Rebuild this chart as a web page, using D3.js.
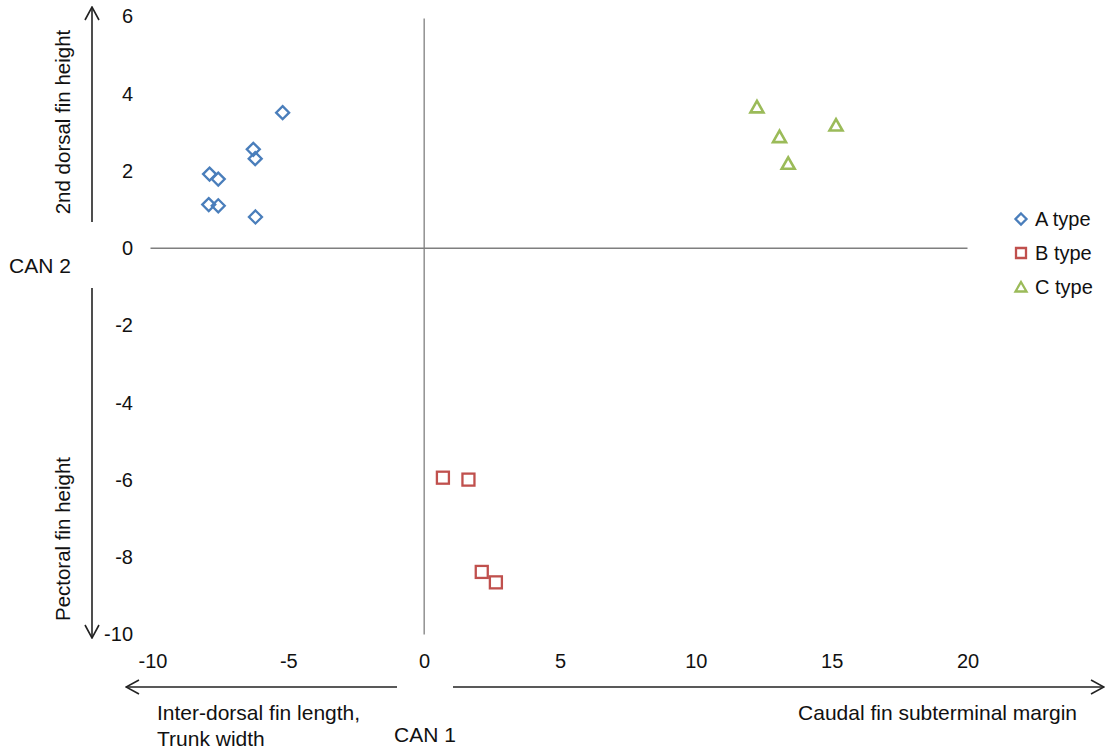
<!DOCTYPE html>
<html>
<head>
<meta charset="utf-8">
<script src="https://cdn.jsdelivr.net/npm/d3@7"></script>
<style>
  body { margin: 0; background: #fff; }
  svg text { font-family: "Liberation Sans", Arial, sans-serif; fill: #111; }
</style>
</head>
<body>
<div id="chart"></div>
<script>
// CAN 1 x CAN 2 scatter

// data
const aType = [[-7.90, 1.92], [-7.58, 1.79], [-7.93, 1.13], [-7.58, 1.10],
               [-6.29, 2.56], [-6.22, 2.32], [-6.21, 0.81], [-5.21, 3.51]];
const bType = [[0.69, -5.94], [1.63, -5.99], [2.12, -8.38], [2.64, -8.65]];
const cType = [[12.25, 3.66], [13.08, 2.89], [13.40, 2.20], [15.16, 3.19]];

const xTicks = [-10, -5, 0, 5, 10, 15, 20];
const yTicks = [-10, -8, -6, -4, -2, 0, 2, 4, 6];
const seriesNames = ["A type", "B type", "C type"];

const width = 1105, height = 754;

const svg = d3.select("#chart")
  .append("svg")
  .attr("width", width)
  .attr("height", height);

const x = d3.scaleLinear().domain([-10, 20]).range([152.5, 967.5]);
const y = d3.scaleLinear().domain([-10, 6]).range([634.5, 16.5]);

// arrow marker
const defs = svg.append("defs");
defs.append("marker")
  .attr("id", "arr")
  .attr("viewBox", "0 0 16 16")
  .attr("refX", 15).attr("refY", 8)
  .attr("markerWidth", 16).attr("markerHeight", 16)
  .attr("markerUnits", "userSpaceOnUse")
  .attr("orient", "auto")
  .append("path")
    .attr("d", "M2,1 L15,8 L2,15")
    .attr("fill", "none")
    .attr("stroke", "#222")
    .attr("stroke-width", 1.6);

// zero lines
svg.append("line")
  .attr("x1", x(-10) - 2).attr("x2", x(20))
  .attr("y1", y(0)).attr("y2", y(0))
  .attr("stroke", "#7f7f7f").attr("stroke-width", 1.3);
svg.append("line")
  .attr("x1", x(0)).attr("x2", x(0))
  .attr("y1", y(6) + 2).attr("y2", y(-10))
  .attr("stroke", "#7f7f7f").attr("stroke-width", 1.3);

// y axis labels
const yAxis = svg.append("g")
  .attr("transform", "translate(138,0)")
  .call(d3.axisLeft(y).tickValues(yTicks).tickSize(0).tickPadding(5)
    .tickFormat(d => String(d)));
yAxis.select(".domain").remove();
yAxis.selectAll("text")
  .attr("fill", "#111")
  .style("font-size", "20px")
  .style("font-family", "Liberation Sans, Arial, sans-serif");

// x axis labels
const xAxis = svg.append("g")
  .attr("transform", "translate(0,650)")
  .call(d3.axisBottom(x).tickValues(xTicks).tickSize(0).tickPadding(4)
    .tickFormat(d => String(d)));
xAxis.select(".domain").remove();
xAxis.selectAll("text")
  .attr("fill", "#111")
  .style("font-size", "20px")
  .style("font-family", "Liberation Sans, Arial, sans-serif");

// direction arrows
const arrows = [
  [92, 222, 92, 7],
  [92, 288, 92, 638],
  [397, 687, 126, 687],
  [453, 687, 1104, 687]
];
svg.selectAll(".arrow")
  .data(arrows)
  .join("line")
    .attr("class", "arrow")
    .attr("x1", d => d[0]).attr("y1", d => d[1])
    .attr("x2", d => d[2]).attr("y2", d => d[3])
    .attr("stroke", "#222")
    .attr("stroke-width", 1.6)
    .attr("marker-end", "url(#arr)");

// axis titles
svg.append("text")
  .attr("transform", "translate(70,122) rotate(-90)")
  .attr("text-anchor", "middle")
  .style("font-size", "20.5px")
  .text("2nd dorsal fin height");
svg.append("text")
  .attr("transform", "translate(70,539) rotate(-90)")
  .attr("text-anchor", "middle")
  .style("font-size", "20.5px")
  .text("Pectoral fin height");
svg.append("text")
  .attr("x", 9).attr("y", 273)
  .style("font-size", "21px")
  .text("CAN 2");
svg.append("text")
  .attr("x", 425).attr("y", 742)
  .attr("text-anchor", "middle")
  .style("font-size", "21px")
  .text("CAN 1");
svg.append("text")
  .attr("x", 157).attr("y", 720)
  .style("font-size", "21px")
  .text("Inter-dorsal fin length,");
svg.append("text")
  .attr("x", 157).attr("y", 746)
  .style("font-size", "21px")
  .text("Trunk width");
svg.append("text")
  .attr("x", 1077).attr("y", 720)
  .attr("text-anchor", "end")
  .style("font-size", "21px")
  .text("Caudal fin subterminal margin");

// markers
const blue = "#4a7ebb", red = "#c0504d", green = "#9bbb59";

svg.selectAll(".a")
  .data(aType)
  .join("path")
    .attr("class", "a")
    .attr("transform", d => `translate(${x(d[0])},${y(d[1])})`)
    .attr("d", "M0,-6.5 L6.5,0 L0,6.5 L-6.5,0 Z")
    .attr("fill", "none").attr("stroke", blue).attr("stroke-width", 2.3);

svg.selectAll(".b")
  .data(bType)
  .join("rect")
    .attr("class", "b")
    .attr("x", d => x(d[0]) - 6).attr("y", d => y(d[1]) - 6)
    .attr("width", 12).attr("height", 12)
    .attr("fill", "none").attr("stroke", red).attr("stroke-width", 2.3);

svg.selectAll(".c")
  .data(cType)
  .join("path")
    .attr("class", "c")
    .attr("transform", d => `translate(${x(d[0])},${y(d[1])})`)
    .attr("d", "M0,-6 L6.5,5.5 L-6.5,5.5 Z")
    .attr("fill", "none").attr("stroke", green).attr("stroke-width", 2.6)
    .attr("stroke-linejoin", "miter");

// legend
const legend = svg.append("g").attr("transform", "translate(1021,219)");
const legendShapes = [
  "M0,-5.5 L5.5,0 L0,5.5 L-5.5,0 Z",
  "M-5,-5 L5,-5 L5,5 L-5,5 Z",
  "M0,-5 L5.5,4.5 L-5.5,4.5 Z"
];
const legendColors = [blue, red, green];
seriesNames.forEach((name, i) => {
  legend.append("path")
    .attr("transform", `translate(0,${i * 34})`)
    .attr("d", legendShapes[i])
    .attr("fill", "none")
    .attr("stroke", legendColors[i])
    .attr("stroke-width", 2.3);
  legend.append("text")
    .attr("x", 14).attr("y", i * 34 + 7)
    .style("font-size", "20px")
    .text(name);
});
</script>
</body>
</html>
